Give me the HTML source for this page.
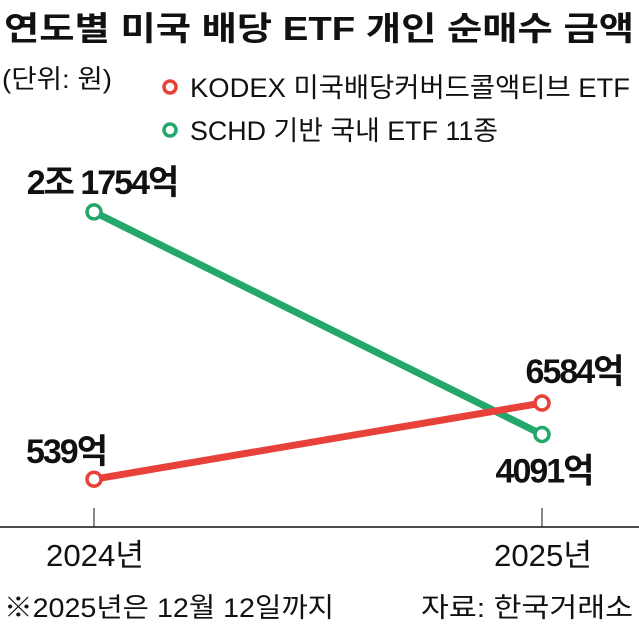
<!DOCTYPE html>
<html><head><meta charset="utf-8"><style>
body{margin:0;background:#fff;}
svg text{font-family:"Liberation Sans","Noto Sans CJK KR",sans-serif;fill:#111;}
</style></head><body>
<svg width="639" height="628" viewBox="0 0 639 628">
<text x="4" y="40" font-size="33" font-weight="bold" textLength="630" lengthAdjust="spacingAndGlyphs">연도별 미국 배당 ETF 개인 순매수 금액</text>
<text x="2" y="88" font-size="26" textLength="110" lengthAdjust="spacingAndGlyphs">(단위: 원)</text>
<g>
<circle cx="170" cy="87" r="6" fill="none" stroke="#e8413a" stroke-width="3.5"/>
<text x="190" y="97" font-size="27" textLength="440" lengthAdjust="spacingAndGlyphs">KODEX 미국배당커버드콜액티브 ETF</text>
<circle cx="170" cy="130" r="6" fill="none" stroke="#22a86b" stroke-width="3.5"/>
<text x="190" y="140" font-size="27" textLength="308" lengthAdjust="spacingAndGlyphs">SCHD 기반 국내 ETF 11종</text>
</g>
<line x1="0" y1="527" x2="639" y2="527" stroke="#111" stroke-width="1.5"/>
<g id="plot"></g>
<text x="4" y="617" font-size="27" textLength="330" lengthAdjust="spacingAndGlyphs">※2025년은 12월 12일까지</text>
<text x="633" y="617" font-size="27" text-anchor="end" textLength="212" lengthAdjust="spacingAndGlyphs">자료: 한국거래소</text>
</svg>
<script>
const categories=["2024년","2025년"];
const kodexValues=[539,6584];
const schdValues=[21754,4091];
const kodexLabels=["539억","6584억"];
const schdLabels=["2조 1754억","4091억"];
const NS="http://www.w3.org/2000/svg";
const g=document.getElementById('plot');
function xPos(i){return 94+i*448;}
function yPos(v){return 486-v*0.0126;}
function mk(tag,attrs){const e=document.createElementNS(NS,tag);for(const k in attrs)e.setAttribute(k,attrs[k]);g.appendChild(e);return e;}
categories.forEach((c,i)=>{
  const t=mk('line',{x1:xPos(i),y1:508,x2:xPos(i),y2:527,stroke:'#111','stroke-width':1});
  
  
  const l=mk('text',{x:xPos(i)-48,y:566,'font-size':31,textLength:98,lengthAdjust:'spacingAndGlyphs'});
  l.textContent=c;
  
  
});
function series(vals,labels,color,name,labelPos){
  const pts=vals.map((v,i)=>xPos(i)+','+yPos(v)).join(' ');
  const pl=mk('polyline',{points:pts,fill:'none',stroke:color,'stroke-width':7});
  
  
  vals.forEach((v,i)=>{
    const c=mk('circle',{cx:xPos(i),cy:yPos(v),r:7,fill:'#fff',stroke:color,'stroke-width':3.5});
    
    
    const p=labelPos[i];
    const t=mk('text',{x:xPos(i)+p[0],y:yPos(v)+p[1],'font-size':34,'font-weight':'bold','text-anchor':'middle','letter-spacing':'-2'});
    t.textContent=labels[i];
    
    
  });
}
series(schdValues,schdLabels,'#22a86b','schd',[[8,-18],[2,48]]);
series(kodexValues,kodexLabels,'#e8413a','kodex',[[-28,-16],[32,-20]]);
</script>
</body></html>
